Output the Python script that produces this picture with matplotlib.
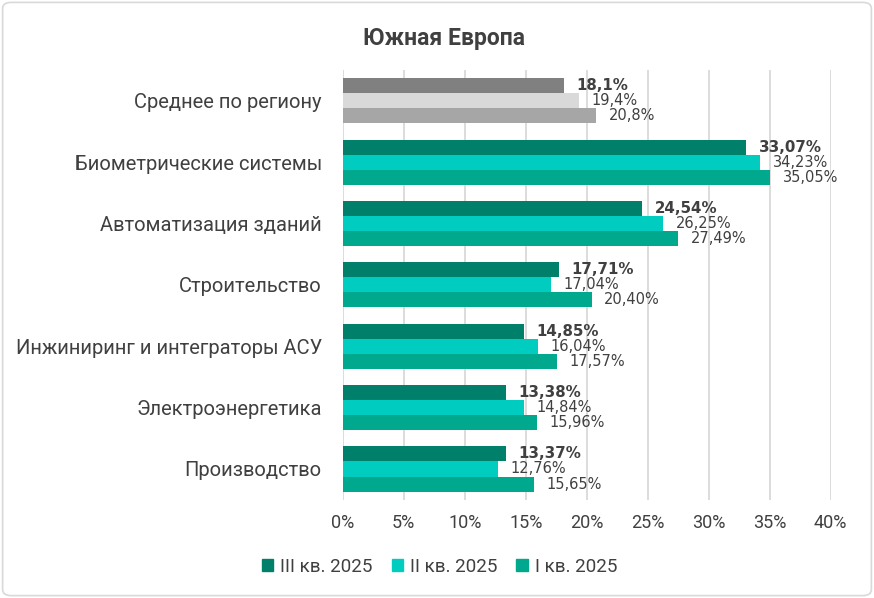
import matplotlib.pyplot as plt
from matplotlib.patches import FancyBboxPatch
import numpy as np

# данные
categories = ['Среднее по региону', 'Биометрические системы', 'Автоматизация зданий',
              'Строительство', 'Инжиниринг и интеграторы АСУ', 'Электроэнергетика',
              'Производство']
q3 = [18.1, 33.07, 24.54, 17.71, 14.85, 13.38, 13.37]
q2 = [19.4, 34.23, 26.25, 17.04, 16.04, 14.84, 12.76]
q1 = [20.8, 35.05, 27.49, 20.40, 17.57, 15.96, 15.65]
series_names = ['III кв. 2025', 'II кв. 2025', 'I кв. 2025']
x_ticks = [0, 5, 10, 15, 20, 25, 30, 35, 40]

# цвета
colors = ['#00806B', '#00CCC0', '#00A88E']
gray_colors = ['#808080', '#D9D9D9', '#A6A6A6']
TEXT = '#404040'

plt.rcParams['font.family'] = ['Roboto', 'DejaVu Sans']

fig = plt.figure(figsize=(8.74, 5.98), dpi=100)
ax = fig.add_axes([0.3921, 0.1644, 0.5584, 0.7185])

h = 0.245
y = np.arange(len(categories))
all_series = [q3, q2, q1]
decimals = [1] + [2] * (len(categories) - 1)

for k, vals in enumerate(all_series):
    offs = (k - 1) * h
    for i, v in enumerate(vals):
        c = gray_colors[k] if i == 0 else colors[k]
        ax.barh(y[i] + offs, v, height=h, color=c, zorder=2)
        txt = f'{v:.{decimals[i]}f}%'.replace('.', ',')
        ax.annotate(txt, (v, y[i] + offs), xytext=(9, 0), textcoords='offset points',
                    va='center', ha='left', fontsize=10.8 if k == 0 else 10.5, color=TEXT,
                    fontweight='bold' if k == 0 else 'normal',
                    family=['DejaVu Sans'])

ax.set_ylim(len(categories) - 0.5, -0.5)
ax.set_xlim(0, 40)
ax.set_yticks(y)
ax.set_yticklabels(categories, fontsize=14.5, color=TEXT)
ax.set_xticks(x_ticks)
ax.set_xticklabels([f'{t}%' for t in x_ticks], fontsize=13, color=TEXT)
ax.tick_params(axis='both', length=0)
ax.tick_params(axis='y', pad=15)
ax.tick_params(axis='x', pad=10)
ax.grid(axis='x', color='#D9D9D9', linewidth=1.3, zorder=0)
for s in ax.spines.values():
    s.set_visible(False)

fig.text(0.508, 0.936, 'Южная Европа', ha='center', va='center',
         fontsize=16.5, fontweight='bold', color=TEXT)

# легенда
handles = [plt.Rectangle((0, 0), 1, 1, color=c) for c in colors]
fig.legend(handles, series_names, loc='center', bbox_to_anchor=(0.503, 0.052),
           ncol=3, frameon=False, fontsize=13.5, handlelength=0.6, handleheight=0.6,
           handletextpad=0.4, columnspacing=1.0, labelcolor=TEXT)

# рамка
fig.patches.append(FancyBboxPatch((0.003, 0.004), 0.994, 0.992,
                                  boxstyle='round,pad=0,rounding_size=0.01',
                                  transform=fig.transFigure, fill=False,
                                  edgecolor='#D9D9D9', linewidth=1.2))

fig.savefig('out.png', dpi=100)
